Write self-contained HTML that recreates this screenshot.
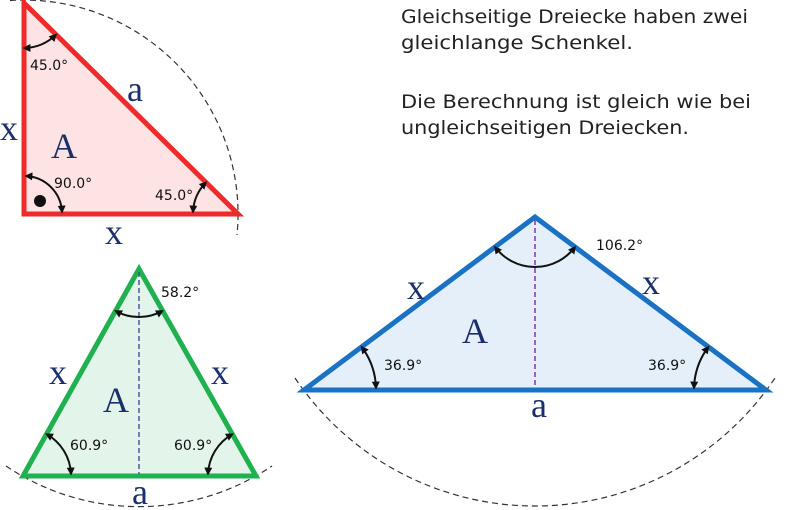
<!DOCTYPE html>
<html><head><meta charset="utf-8"><style>
html,body{margin:0;padding:0;background:#fff;}
svg{display:block;}
.t{font-family:"DejaVu Sans","Liberation Sans",sans-serif;font-size:19px;fill:#222;}
.v{font-family:"Liberation Serif",serif;fill:#1b2f6b;}
.g{font-family:"DejaVu Sans","Liberation Sans",sans-serif;font-size:14px;fill:#111;}
</style></head><body>
<svg width="800" height="510" viewBox="0 0 800 510" xmlns="http://www.w3.org/2000/svg">
<defs>
<marker id="ar" viewBox="0 0 10 10" refX="8" refY="5" markerWidth="8" markerHeight="8" orient="auto-start-reverse" markerUnits="userSpaceOnUse">
<path d="M0,0 L10,5 L0,10 z" fill="#111"/></marker>
</defs>
<text class="t" x="401" y="23" textLength="347" lengthAdjust="spacingAndGlyphs">Gleichseitige Dreiecke haben zwei</text>
<text class="t" x="401" y="49" textLength="232" lengthAdjust="spacingAndGlyphs">gleichlange Schenkel.</text>
<text class="t" x="401" y="108" textLength="350" lengthAdjust="spacingAndGlyphs">Die Berechnung ist gleich wie bei</text>
<text class="t" x="401" y="134" textLength="288" lengthAdjust="spacingAndGlyphs">ungleichseitigen Dreiecken.</text>

<g fill="none" stroke="#333" stroke-width="1.2" stroke-dasharray="6,4">
<path d="M10,0.5 A214,214 0 0 1 237,235"/>
<path d="M295,378 A289,289 0 0 0 775,378"/>
<path d="M6,466 A238,238 0 0 0 272,466"/>
</g>

<polygon points="24,3 24,214 238,214" fill="#fde3e3" stroke="#ee2a2a" stroke-width="5"/>
<polygon points="139,269 23,476 256,476" fill="#e3f4ea" stroke="#1fb150" stroke-width="5"/>
<line x1="139" y1="272" x2="139" y2="474" stroke="#3a3f8f" stroke-width="1.3" stroke-dasharray="5,3"/>
<polygon points="535,217 304,390 766,390" fill="#e4eff9" stroke="#1a72c4" stroke-width="5"/>
<line x1="535" y1="220" x2="535" y2="388" stroke="#7a3fa8" stroke-width="1.5" stroke-dasharray="5,3"/>

<g fill="none" stroke="#111" stroke-width="2" marker-start="url(#ar)" marker-end="url(#ar)">
<path d="M24,48 A45,45 0 0 0 56,34.6"/>
<path d="M26,176 A38,38 0 0 1 62,212"/>
<path d="M193,212 A45,45 0 0 1 206,182.4"/>
<path d="M495,247 A50,50 0 0 0 575,247"/>
<path d="M376,388 A72,72 0 0 0 361.6,346.9"/>
<path d="M694,388 A72,72 0 0 1 708.4,346.9"/>
<path d="M115.5,310.9 A48,48 0 0 0 162.5,310.9"/>
<path d="M71,474 A48,48 0 0 0 46.5,434.1"/>
<path d="M208,474 A48,48 0 0 1 232.5,434.1"/>
</g>
<circle cx="40" cy="201" r="6" fill="#111"/>

<text class="g" x="30" y="70">45.0°</text>
<text class="g" x="54" y="188">90.0°</text>
<text class="g" x="155" y="200">45.0°</text>
<text class="g" x="596" y="250">106.2°</text>
<text class="g" x="384" y="370">36.9°</text>
<text class="g" x="648" y="370">36.9°</text>
<text class="g" x="161" y="297">58.2°</text>
<text class="g" x="70" y="450">60.9°</text>
<text class="g" x="174" y="450">60.9°</text>

<g class="v" font-size="36">
<text x="0" y="140">x</text>
<text x="105" y="244">x</text>
<text x="127" y="101">a</text>
<text x="51" y="158">A</text>
<text x="407" y="299">x</text>
<text x="642" y="294">x</text>
<text x="462" y="343">A</text>
<text x="531" y="417">a</text>
<text x="49" y="384">x</text>
<text x="211" y="384">x</text>
<text x="103" y="412">A</text>
<text x="132" y="504">a</text>
</g>
</svg>
</body></html>
